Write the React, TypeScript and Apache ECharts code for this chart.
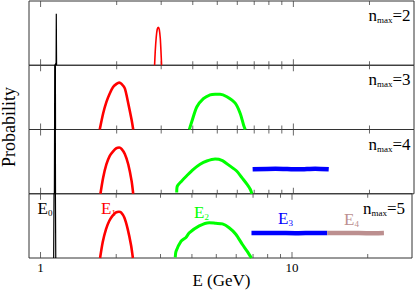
import React, { useEffect, useRef } from "react";
import * as echarts from "echarts";

// ---- data (E in GeV, probability in arbitrary units per panel) ----
const nmaxValues = ["2", "3", "4", "5"];
const xTickLabels = [1, 10];
const majorTicks = [1, 10];
const minorTicks = [2, 3, 4, 5, 6, 7, 8, 9, 20];

// panel 1 (nmax = 2)
const p1E0 = [[1.142, 0], [1.152, 0.04], [1.154, 0.8], [1.157, 0]];
const p1E1 = [[2.825, 0], [2.842, 0.22], [2.868, 0.44], [2.894, 0.56], [2.921, 0.59], [2.948, 0.56], [2.975, 0.42], [2.993, 0.23], [3.011, 0]];

// panel 2 (nmax = 3)
const p2E0 = [[1.136, 0], [1.141, 3], [1.146, 0]];
const p2E1 = [[1.714, 0], [1.768, 0.25], [1.822, 0.43], [1.878, 0.56], [1.936, 0.66], [1.997, 0.71], [2.046, 0.73], [2.09, 0.71], [2.154, 0.64], [2.222, 0.41], [2.291, 0.15], [2.325, 0]];
const p2E2 = [[3.877, 0], [3.963, 0.12], [4.148, 0.35], [4.406, 0.48], [4.684, 0.54], [4.902, 0.55], [5.132, 0.55], [5.457, 0.51], [5.887, 0.41], [6.163, 0.25], [6.353, 0.07], [6.449, 0]];

// panel 3 (nmax = 4)
const p3E0 = [[1.134, 0], [1.14, 3], [1.146, 0]];
const p3E1 = [[1.725, 0], [1.768, 0.25], [1.822, 0.46], [1.878, 0.59], [1.936, 0.66], [1.997, 0.71], [2.046, 0.72], [2.09, 0.7], [2.154, 0.62], [2.222, 0.46], [2.291, 0.2], [2.325, 0]];
const p3E2 = [[3.456, 0.02], [3.475, 0.12], [3.618, 0.2], [3.787, 0.28], [4.022, 0.38], [4.276, 0.46], [4.546, 0.51], [4.902, 0.54], [5.212, 0.52], [5.623, 0.43], [5.978, 0.35], [6.258, 0.25], [6.551, 0.15], [6.752, 0.07], [6.856, 0]];
const p3E3 = [[6.9, 0.38], [8.5, 0.39], [10.5, 0.38], [12.2, 0.39], [13.8, 0.38]];

// panel 4 (nmax = 5)
const p4E0 = [[1.128, 0], [1.139, 3], [1.15, 0]];
const p4E1 = [[1.725, 0], [1.768, 0.25], [1.822, 0.45], [1.878, 0.58], [1.936, 0.66], [1.997, 0.71], [2.05, 0.72], [2.09, 0.71], [2.154, 0.63], [2.222, 0.45], [2.291, 0.2], [2.33, 0]];
const p4E2 = [[3.434, 0.01], [3.456, 0.1], [3.618, 0.26], [3.787, 0.32], [3.902, 0.39], [4.276, 0.5], [4.684, 0.55], [4.979, 0.54], [5.29, 0.53], [5.623, 0.47], [5.978, 0.37], [6.351, 0.21], [6.647, 0.1], [6.896, 0]];
const p4E3 = [[6.9, 0.39], [8.5, 0.39], [10.5, 0.385], [12.2, 0.39], [13.8, 0.39]];
const p4E4 = [[13.8, 0.39], [17, 0.39], [20, 0.385], [23.2, 0.39]];

const stateSubs = ["0", "1", "2", "3", "4"];
const stateColors = ["#000000", "#ff0000", "#00ff00", "#0000ff", "#bc8f8f"];

const FONT = "Times New Roman, Liberation Serif, DejaVu Serif, serif";
const LEFT = 29;
const WIDTH = 385;
const TOP0 = 1;
const PH = 64.25;

export default function App() {
  const ref = useRef<HTMLDivElement>(null);
  useEffect(() => {
    document.body.style.margin = "0";
    const chart = echarts.init(ref.current!, null, { renderer: "svg" });
    const panels = [
      [{ d: p1E0, c: 0, w: 1.2 }, { d: p1E1, c: 1, w: 1.6 }],
      [{ d: p2E0, c: 0, w: 1.2 }, { d: p2E1, c: 1, w: 2.6 }, { d: p2E2, c: 2, w: 3 }],
      [{ d: p3E0, c: 0, w: 1.2 }, { d: p3E1, c: 1, w: 2.6 }, { d: p3E2, c: 2, w: 3 }, { d: p3E3, c: 3, w: 4.5 }],
      [{ d: p4E0, c: 0, w: 1.2 }, { d: p4E1, c: 1, w: 2.6 }, { d: p4E2, c: 2, w: 3 }, { d: p4E3, c: 3, w: 4.5 }, { d: p4E4, c: 4, w: 4.5 }],
    ];
    const grids: any[] = [];
    const xAxes: any[] = [];
    const yAxes: any[] = [];
    const series: any[] = [];
    const graphics: any[] = [];
    panels.forEach((list, i) => {
      const top = TOP0 + PH * i;
      grids.push({ left: LEFT, width: WIDTH, top, height: PH, show: true, borderColor: "#333", borderWidth: 1 });
      const last = i === panels.length - 1;
      xAxes.push({
        type: "log", logBase: 10, min: 0.9, max: 30, gridIndex: i,
        axisLine: { show: false }, axisTick: { show: false }, splitLine: { show: false },
        axisLabel: {
          show: last, margin: 3, fontSize: 13, color: "#000", fontFamily: FONT,
          formatter: (v: number) => {
            const hit = xTickLabels.find((t) => Math.abs(v - t) < 1e-6 * t);
            return hit !== undefined ? String(hit) : "";
          },
        },
      });
      yAxes.push({ type: "value", min: 0, max: 1, gridIndex: i, show: false });
      list.forEach((s) => {
        series.push({
          type: "line", xAxisIndex: i, yAxisIndex: i, data: s.d, showSymbol: false,
          smooth: s.c === 0 ? false : 0.25, clip: true,
          lineStyle: { color: stateColors[s.c], width: s.w }, z: 3,
        });
      });
      const tickSets = [
        { vals: majorTicks, len: 6 },
        { vals: minorTicks, len: 4 },
      ];
      tickSets.forEach((t) => {
        [0, 1].forEach((yv) => {
          series.push({
            type: "scatter", xAxisIndex: i, yAxisIndex: i, clip: false, silent: true,
            data: t.vals.map((v) => [v, yv]), symbol: "rect", symbolSize: [1, t.len],
            symbolOffset: [0, yv === 0 ? -t.len / 2 : t.len / 2],
            itemStyle: { color: "#444" }, z: 2,
          });
        });
      });
      graphics.push({
        type: "text", x: i === 3 ? 405 : 410.5, y: top + 5.5, z: 10,
        style: {
          text: `{a|n}{b|max}{a|=${nmaxValues[i]}}`, align: "right", verticalAlign: "top",
          fontFamily: FONT, fill: "#000",
          rich: {
            a: { fontSize: 17, lineHeight: 18, fontFamily: FONT, fill: "#000" },
            b: { fontSize: 9, lineHeight: 12, verticalAlign: "bottom", fontFamily: FONT, fill: "#000" },
          },
        },
      });
    });
    const stateLabelPos = [[37.5, 199.5], [101, 199], [194, 203], [278, 209.5], [344, 210]];
    stateLabelPos.forEach((p, k) => {
      graphics.push({
        type: "text", x: p[0], y: p[1], z: 10,
        style: {
          text: `{a|E}{b|${stateSubs[k]}}`, align: "left", verticalAlign: "top",
          fontFamily: FONT, fill: stateColors[k],
          rich: {
            a: { fontSize: 17, lineHeight: 18, fontFamily: FONT, fill: stateColors[k] },
            b: { fontSize: 9, lineHeight: 12, verticalAlign: "bottom", fontFamily: FONT, fill: stateColors[k] },
          },
        },
      });
    });
    graphics.push({
      type: "text", x: 8.5, y: 127, rotation: Math.PI / 2, z: 10,
      style: { text: "Probability", fontSize: 18, fontFamily: FONT, fill: "#000", align: "center", verticalAlign: "middle" },
    });
    graphics.push({
      type: "text", x: 221.5, y: 280, z: 10,
      style: { text: "E (GeV)", fontSize: 17, fontFamily: FONT, fill: "#000", align: "center", verticalAlign: "middle" },
    });
    chart.setOption({
      animation: false,
      backgroundColor: "#fff",
      grid: grids,
      xAxis: xAxes,
      yAxis: yAxes,
      series,
      graphic: graphics,
    });
    return () => chart.dispose();
  }, []);
  return <div ref={ref} style={{ width: 415, height: 290 }} />;
}
